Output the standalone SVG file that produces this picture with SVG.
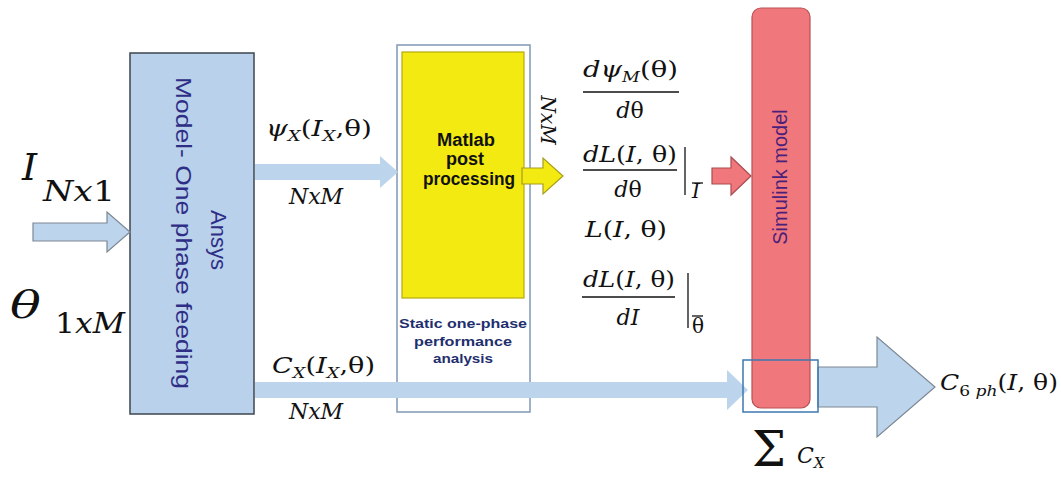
<svg xmlns="http://www.w3.org/2000/svg" width="1061" height="479" viewBox="0 0 1061 479">
<style>
.m{font-family:"DejaVu Serif","Liberation Serif",serif;fill:#111;}
.i{font-style:italic;}
.lb{fill:#bcd4ec;}
.lbs{fill:#bcd4ec;stroke:#7c8894;stroke-width:1.2;}
.fl{stroke:#111;stroke-width:1.3;}
.vt{font-family:"Liberation Sans",sans-serif;}
</style>
<rect width="1061" height="479" fill="#ffffff"/>
<g id="ansys">
<rect x="130" y="53" width="124" height="361" fill="#b9d1ea" stroke="#3e4650" stroke-width="1.5"/>
<text class="vt" transform="translate(211,240) rotate(90)" text-anchor="middle" font-size="22" fill="#2e2e86">Ansys</text>
<text class="vt" transform="translate(176,233) rotate(90)" text-anchor="middle" font-size="22" fill="#2e2e86" textLength="312" lengthAdjust="spacingAndGlyphs">Model- One phase feeding</text>
</g>
<g id="matlab-container">
<rect x="397" y="45" width="133" height="367" fill="#ffffff" stroke="#8098b4" stroke-width="1.5"/>
<text class="vt" x="463" y="328" text-anchor="middle" font-size="13" font-weight="bold" fill="#1f2f6e" textLength="128" lengthAdjust="spacingAndGlyphs">Static one-phase</text>
<text class="vt" x="463" y="346" text-anchor="middle" font-size="13" font-weight="bold" fill="#1f2f6e" textLength="98" lengthAdjust="spacingAndGlyphs">performance</text>
<text class="vt" x="463" y="363" text-anchor="middle" font-size="13" font-weight="bold" fill="#1f2f6e" textLength="60" lengthAdjust="spacingAndGlyphs">analysis</text>
</g>
<g id="matlab">
<rect x="402" y="52" width="122" height="246" fill="#f2ea10" stroke="#b4aa10" stroke-width="1.2"/>
<text class="vt" x="466" y="146" text-anchor="middle" font-size="18" font-weight="bold" fill="#111" textLength="58" lengthAdjust="spacingAndGlyphs">Matlab</text>
<text class="vt" x="465" y="165" text-anchor="middle" font-size="18" font-weight="bold" fill="#111">post</text>
<text class="vt" x="469" y="185" text-anchor="middle" font-size="18" font-weight="bold" fill="#111" textLength="92" lengthAdjust="spacingAndGlyphs">processing</text>
</g>
<g id="simulink">
<rect x="752" y="8" width="58" height="400" rx="9" fill="#f0787c" stroke="#b85054" stroke-width="1.2"/>
<text class="vt" transform="translate(787,177) rotate(-90)" text-anchor="middle" font-size="20" fill="#4b1f7a">Simulink model</text>
</g>
<g id="connectors">
<polygon class="lbs" points="33,223 107,223 107,212 130,232 107,252 107,241 33,241"/>
<polygon class="lb" points="255,164 380,164 380,156 398,172 380,188 380,180 255,180"/>
<polygon class="lb" points="255,382 727,382 727,370 748,390 727,410 727,398 255,398"/>
<polygon points="522,168 543,168 543,158 563,176 543,194 543,184 522,184" fill="#f2ea10" stroke="#a89c20" stroke-width="1.2"/>
<polygon points="712,168 731,168 731,157 751,176 731,195 731,184 712,184" fill="#f0787c" stroke="#a84c50" stroke-width="1.2"/>
<polygon class="lbs" points="818,367 877,367 877,337 935,387 877,437 877,407 818,407"/>
</g>
<g id="sum">
<rect x="743" y="360" width="75" height="52" fill="none" stroke="#3d78b0" stroke-width="1.5"/>
</g>
<g id="labels">
<text class="m i" x="22" y="180" font-size="38">I</text>
<text class="m" x="43" y="201" font-size="27" textLength="72" lengthAdjust="spacingAndGlyphs"><tspan class="i">Nx</tspan>1</text>
<text class="m i" transform="translate(10,318) scale(1.35,1)" font-size="38">θ</text>
<text class="m" x="55" y="333" font-size="27" textLength="70" lengthAdjust="spacingAndGlyphs">1<tspan class="i">xM</tspan></text>

<text class="m" x="266" y="136" font-size="23" textLength="106" lengthAdjust="spacingAndGlyphs"><tspan class="i">ψ</tspan><tspan class="i" font-size="15" dy="5">X</tspan><tspan dy="-5">(</tspan><tspan class="i">I</tspan><tspan class="i" font-size="15" dy="5">X</tspan><tspan dy="-5">,θ)</tspan></text>
<text class="m i" x="316" y="204" font-size="22" text-anchor="middle">NxM</text>
<text class="m" x="272" y="373" font-size="23" textLength="103" lengthAdjust="spacingAndGlyphs"><tspan class="i">C</tspan><tspan class="i" font-size="15" dy="5">X</tspan><tspan dy="-5">(</tspan><tspan class="i">I</tspan><tspan class="i" font-size="15" dy="5">X</tspan><tspan dy="-5">,θ)</tspan></text>
<text class="m i" x="316" y="419" font-size="22" text-anchor="middle">NxM</text>

<text class="m i" transform="translate(541,120) rotate(90)" text-anchor="middle" font-size="20">NxM</text>

<text class="m" x="583" y="77" font-size="22" textLength="95" lengthAdjust="spacingAndGlyphs"><tspan class="i">dψ</tspan><tspan class="i" font-size="14" dy="5">M</tspan><tspan dy="-5">(θ)</tspan></text>
<line class="fl" x1="583" y1="92" x2="679" y2="92"/>
<text class="m" x="630" y="118" font-size="22" text-anchor="middle"><tspan class="i">d</tspan>θ</text>

<text class="m" x="583" y="162" font-size="22" textLength="94" lengthAdjust="spacingAndGlyphs"><tspan class="i">dL</tspan>(<tspan class="i">I</tspan>, θ)</text>
<line class="fl" x1="583" y1="170" x2="677" y2="170"/>
<text class="m" x="628" y="197" font-size="22" text-anchor="middle"><tspan class="i">d</tspan>θ</text>
<line class="fl" x1="685" y1="147" x2="685" y2="195"/>
<text class="m i" x="692" y="198" font-size="20">I</text>
<line class="fl" x1="692" y1="183" x2="703" y2="183"/>

<text class="m" x="585" y="237" font-size="22" textLength="82" lengthAdjust="spacingAndGlyphs"><tspan class="i">L</tspan>(<tspan class="i">I</tspan>, θ)</text>

<text class="m" x="583" y="287" font-size="22" textLength="92" lengthAdjust="spacingAndGlyphs"><tspan class="i">dL</tspan>(<tspan class="i">I</tspan>, θ)</text>
<line class="fl" x1="582" y1="297" x2="675" y2="297"/>
<text class="m i" x="628" y="325" font-size="22" text-anchor="middle">dI</text>
<line class="fl" x1="688" y1="273" x2="688" y2="328"/>
<text class="m" x="692" y="333" font-size="20">θ</text>
<line class="fl" x1="692" y1="316" x2="703" y2="316"/>

<text class="m" x="940" y="390" font-size="22" textLength="118" lengthAdjust="spacingAndGlyphs"><tspan class="i">C</tspan><tspan font-size="15" dy="6">6 <tspan class="i">ph</tspan></tspan><tspan dy="-6">(</tspan><tspan class="i">I</tspan>, θ)</text>

<text class="m" x="752" y="466" font-size="48">Σ</text>
<text class="m" x="797" y="463" font-size="22"><tspan class="i">C</tspan><tspan class="i" font-size="15" dy="5">X</tspan></text>
</g>
</svg>
